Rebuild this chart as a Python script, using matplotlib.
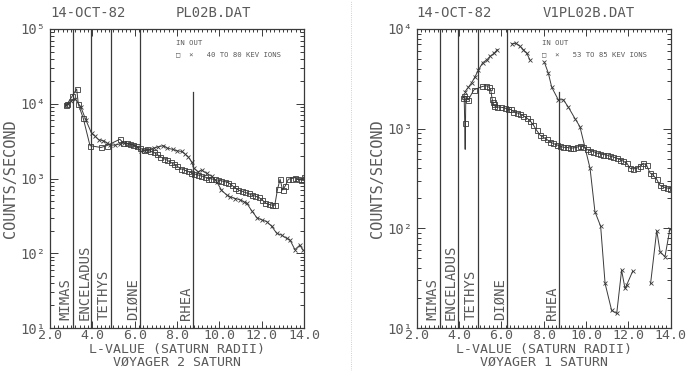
import numpy as np
import matplotlib
matplotlib.use('Agg')
import matplotlib.pyplot as plt
from matplotlib.ticker import MultipleLocator, LogLocator, FuncFormatter, NullFormatter
from matplotlib.lines import Line2D

# ---------------- data ----------------
moon_names = ['MIMAS', 'ENCELADUS', 'TETHYS', 'DIØNE', 'RHEA']
moon_L = [3.08, 3.95, 4.88, 6.26, 8.74]

# Voyager 2 (left panel), 40 TO 80 KEV IONS
v2_in_L = [2.75, 2.80, 3.06, 3.26, 3.34, 3.57, 3.89, 4.41, 4.68,
           5.30, 5.46, 5.62, 5.78, 5.94, 6.10, 6.26, 6.42, 6.58, 6.74, 6.90,
           7.06, 7.22, 7.38, 7.54, 7.70, 7.86, 8.02, 8.18, 8.34, 8.50, 8.66,
           8.82, 8.98, 9.14, 9.30, 9.46, 9.62, 9.78, 9.94, 10.10, 10.26, 10.42,
           10.58, 10.74, 10.90, 11.06, 11.22, 11.38, 11.54, 11.70, 11.86, 12.02,
           12.18, 12.34, 12.50,
           12.62, 12.75, 12.87, 12.99, 13.12, 13.26, 13.42, 13.58, 13.74, 13.88, 14.00]
v2_in = [9500, 9800, 12800, 15800, 9800, 6400, 2750, 2600, 2750,
         3350, 3000, 2950, 2900, 2800, 2700, 2550, 2400, 2450, 2300, 2250,
         2100, 1950, 1850, 1750, 1650, 1550, 1450, 1350, 1300, 1250, 1200,
         1150, 1120, 1080, 1060, 1000, 990, 970, 950, 930, 910, 880,
         820, 750, 700, 680, 650, 630, 600, 580, 560, 520,
         470, 450, 440,
         440, 720, 980, 700, 800, 980, 1000, 1030, 980, 950, 1050]
v2_out_L = [2.75, 2.85, 3.00, 3.20, 3.46, 3.70, 3.97, 4.12, 4.30, 4.52,
            4.68, 4.85, 5.07, 5.30, 5.50, 5.70, 5.90, 6.10, 6.30, 6.50,
            6.70, 6.90, 7.10, 7.35, 7.55, 7.80, 8.00, 8.22, 8.40, 8.53,
            8.69, 8.80, 9.00, 9.16, 9.40, 9.64, 9.87, 10.10, 10.35, 10.50,
            10.75, 10.97, 11.15, 11.30, 11.53, 11.77, 12.00, 12.24, 12.47, 12.71,
            12.94, 13.18, 13.34, 13.57, 13.80, 13.96]
v2_out = [9500, 10000, 11000, 11500, 9000, 6000, 4000, 3700, 3300, 3200,
          3000, 2800, 2800, 2900, 3000, 2900, 2800, 2650, 2300, 2350,
          2450, 2550, 2650, 2750, 2550, 2450, 2350, 2300, 2100, 1950,
          1670, 1370, 1230, 1300, 1170, 1070, 910, 700, 600, 570,
          540, 520, 490, 465, 370, 300, 280, 265, 230, 185,
          175, 158, 150, 112, 128, 110]

# Voyager 1 (right panel), 53 TO 85 KEV IONS
v1_in_L = [4.20, 4.24, 4.27, 4.29, 4.32, 4.44, 4.70, 5.10, 5.28, 5.42,
           5.50, 5.56, 5.60, 5.63, 5.66, 5.80, 5.98, 6.15, 6.30, 6.45,
           6.57, 6.72, 6.88, 7.04, 7.20, 7.36, 7.51, 7.67, 7.83, 7.98,
           8.14, 8.30, 8.45, 8.61, 8.77, 8.93, 9.09, 9.24, 9.40, 9.56,
           9.71, 9.87, 10.03, 10.19, 10.35, 10.50, 10.66, 10.82, 10.97, 11.13,
           11.29, 11.45, 11.61, 11.77, 11.93, 12.08, 12.24, 12.40, 12.55, 12.70,
           12.86, 13.02, 13.18, 13.34, 13.49, 13.65, 13.81, 13.96]
v1_in = [2050, 2150, 1150, 620, 2050, 1950, 2450, 2650, 2700, 2600,
         2450, 2000, 1850, 1750, 1700, 1650, 1640, 1620, 1560, 1560,
         1480, 1450, 1400, 1350, 1280, 1200, 1090, 960, 860, 820,
         780, 740, 710, 690, 670, 650, 650, 640, 640, 650,
         670, 660, 620, 600, 590, 570, 560, 550, 545, 530,
         520, 505, 490, 470, 450, 400, 395, 400, 420, 450,
         430, 360, 340, 310, 270, 260, 255, 250]
v1_out_L = [4.28, 4.44, 4.60, 4.75, 4.91, 5.12, 5.31, 5.46, 5.65, 5.81, np.nan,
            6.49, 6.68, 6.88, 7.04, 7.20, 7.35, np.nan,
            8.03, 8.22, 8.38, 8.69, 8.93, 9.16, 9.48, 9.71, 10.19, 10.42,
            10.69, 10.90, 11.21, 11.45, 11.68, 11.84, 11.92, 12.20, np.nan,
            13.05, 13.34, 13.50, 13.73, 13.96]
v1_out = [2350, 2600, 2900, 3300, 3850, 4600, 4900, 5300, 5700, 6200, np.nan,
          7100, 7200, 6700, 6200, 5700, 4900, np.nan,
          4650, 3600, 2600, 1950, 1950, 1650, 1260, 1050, 400, 147,
          105, 28, 15, 14, 38, 25, 27, 37, np.nan,
          28, 95, 58, 52, 98]

# ---------------- style ----------------
MONO = ['DejaVu Sans Mono', 'DejaVu Sans']
plt.rcParams['font.family'] = MONO
TXT = '#5a5a5a'
LINE = '#3a3a3a'
SUP = {1: '¹', 2: '²', 3: '³', 4: '⁴', 5: '⁵'}

fig = plt.figure(figsize=(7.0, 3.71), dpi=100)
W, H = 700.0, 371.0


def panel(left_px, ymax, in_L, in_v, out_L, out_v, fname, energy, craft,
          skip_in=()):
    ax = fig.add_axes([left_px / W, (H - 328) / H, 254 / W, 299 / H])
    ax.set_xlim(2.0, 14.0)
    ax.set_yscale('log')
    ax.set_ylim(10, ymax)

    marks = [i for i in range(len(in_L)) if i not in skip_in]
    ax.plot(in_L, in_v, color=LINE, lw=0.7, marker='s', ms=3.6,
            mfc='none', mec=LINE, mew=0.6, markevery=marks)
    ax.plot(out_L, out_v, color=LINE, lw=0.7, marker='x', ms=3.4,
            mec=LINE, mew=0.6)

    for name, L in zip(moon_names, moon_L):
        top = 0.79 if name == 'RHEA' else 1.0
        ax.axvline(L, ymin=0, ymax=top, color=LINE, lw=0.9)
        ax.annotate(name, xy=(L, 0), xycoords=('data', 'axes fraction'),
                    xytext=(-7, 8), textcoords='offset pixels',
                    rotation=90, ha='center', va='bottom',
                    fontsize=10, color=TXT)

    for s in ax.spines.values():
        s.set_color(LINE)
        s.set_linewidth(0.9)

    ax.xaxis.set_major_locator(MultipleLocator(2.0))
    ax.xaxis.set_minor_locator(MultipleLocator(0.2))
    ax.xaxis.set_major_formatter(FuncFormatter(lambda v, p: f'{v:.1f}'))
    ax.yaxis.set_major_locator(LogLocator(base=10, numticks=10))
    ax.yaxis.set_minor_locator(LogLocator(base=10, subs=np.arange(2, 10), numticks=20))
    ax.yaxis.set_major_formatter(FuncFormatter(
        lambda v, p: '10' + SUP.get(int(round(np.log10(v))), '')))
    ax.yaxis.set_minor_formatter(NullFormatter())

    ax.tick_params(axis='both', which='both', direction='in', top=True,
                   right=True, colors=LINE, labelcolor=TXT, labelsize=10,
                   width=0.7)
    ax.tick_params(axis='x', which='major', length=5, pad=1.0, labelsize=9.5)
    ax.tick_params(axis='x', which='minor', length=2.5)
    ax.tick_params(axis='y', which='major', length=6, pad=3)
    ax.tick_params(axis='y', which='minor', length=3)

    ax.set_ylabel('COUNTS/SECOND', fontsize=11, color=TXT, labelpad=2)
    ax.text(0.5, (328 - 350) / 299, 'L-VALUE (SATURN RADII)',
            transform=ax.transAxes, fontsize=9.5, color=TXT,
            ha='center', va='center')
    ax.text(0.5, (328 - 362.5) / 299, craft,
            transform=ax.transAxes, fontsize=9.5, color=TXT,
            ha='center', va='center')

    ax.text(0.0, 1.053, '14-OCT-82', transform=ax.transAxes, fontsize=10,
            color=TXT, ha='left', va='center')
    ax.text(0.496, 1.053, fname, transform=ax.transAxes, fontsize=10,
            color=TXT, ha='left', va='center')
    ax.text(0.495, 0.953, 'IN OUT', transform=ax.transAxes, fontsize=5.2,
            color=TXT, ha='left', va='center')
    ax.text(0.495, 0.916, '□  ×   ' + energy, transform=ax.transAxes,
            fontsize=5.2, color=TXT, ha='left', va='center')
    return ax


ax1 = panel(50, 1e5, v2_in_L, v2_in, v2_out_L, v2_out, 'PL02B.DAT',
            '40 TO 80 KEV IONS', 'VØYAGER 2 SATURN')
ax2 = panel(416.7, 1e4, v1_in_L, v1_in, v1_out_L, v1_out, 'V1PL02B.DAT',
            '53 TO 85 KEV IONS', 'VØYAGER 1 SATURN', skip_in=(3,))

fig.add_artist(Line2D([351 / W, 351 / W], [0, 1], transform=fig.transFigure,
                      color='#c0c0c0', lw=0.6, ls=':'))

fig.savefig('out.png', dpi=100, facecolor='white')
